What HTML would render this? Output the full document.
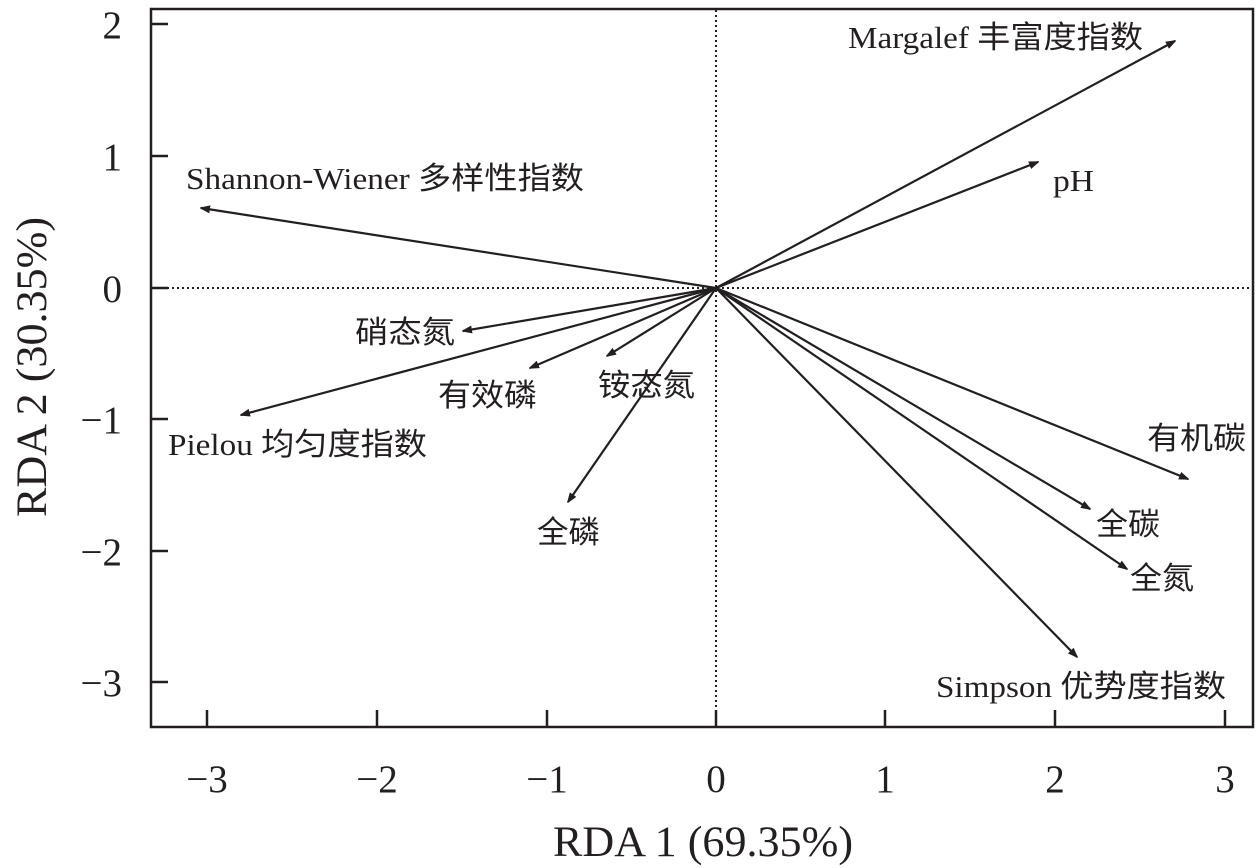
<!DOCTYPE html>
<html><head><meta charset="utf-8"><style>body{margin:0;background:#fff}svg{display:block}
.t{font-family:"Liberation Serif","Noto Serif CJK SC",serif;fill:#231f20}
.l{font-family:"Liberation Serif","Noto Sans CJK SC",sans-serif;fill:#231f20;font-size:31px}
</style></head><body>
<svg width="1259" height="868" viewBox="0 0 1259 868">
<defs><marker id="a" markerWidth="10" markerHeight="8" refX="9" refY="4" orient="auto" markerUnits="userSpaceOnUse"><path d="M0,0 L11,4 L0,8 z" fill="#231f20"/></marker></defs>
<rect x="151" y="9" width="1102" height="718" fill="none" stroke="#231f20" stroke-width="2.5"/>
<g stroke="#231f20" stroke-width="2.5">
<line x1="207" y1="727" x2="207" y2="710"/><line x1="377" y1="727" x2="377" y2="710"/><line x1="547" y1="727" x2="547" y2="710"/><line x1="716" y1="727" x2="716" y2="710"/><line x1="885" y1="727" x2="885" y2="710"/><line x1="1055" y1="727" x2="1055" y2="710"/><line x1="1225" y1="727" x2="1225" y2="710"/>
<line x1="151" y1="24" x2="168" y2="24"/><line x1="151" y1="156" x2="168" y2="156"/><line x1="151" y1="288" x2="168" y2="288"/><line x1="151" y1="419" x2="168" y2="419"/><line x1="151" y1="551" x2="168" y2="551"/><line x1="151" y1="682" x2="168" y2="682"/>
</g>
<g stroke="#231f20" stroke-width="2" stroke-dasharray="2,3">
<line x1="716" y1="10" x2="716" y2="726"/><line x1="152" y1="288" x2="1252" y2="288"/>
</g>
<g class="t" font-size="39" text-anchor="end">
<text x="122" y="38">2</text><text x="122" y="170">1</text><text x="122" y="302">0</text><text x="122" y="433">−1</text><text x="122" y="565">−2</text><text x="122" y="696">−3</text>
</g>
<g class="t" font-size="39" text-anchor="middle">
<text x="207" y="792">−3</text><text x="377" y="792">−2</text><text x="547" y="792">−1</text><text x="716" y="792">0</text><text x="885" y="792">1</text><text x="1055" y="792">2</text><text x="1225" y="792">3</text>
<text x="703" y="856" font-size="43" textLength="300" lengthAdjust="spacingAndGlyphs">RDA 1 (69.35%)</text>
<text transform="translate(46,367) rotate(-90)" font-size="43" textLength="300" lengthAdjust="spacingAndGlyphs">RDA 2 (30.35%)</text>
</g>
<g stroke="#231f20" stroke-width="2.2" marker-end="url(#a)">
<line x1="716" y1="288" x2="1175" y2="41"/>
<line x1="716" y1="288" x2="1038" y2="162"/>
<line x1="716" y1="288" x2="201" y2="208"/>
<line x1="716" y1="288" x2="463" y2="331"/>
<line x1="716" y1="288" x2="530" y2="368"/>
<line x1="716" y1="288" x2="607" y2="356"/>
<line x1="716" y1="288" x2="241" y2="415"/>
<line x1="716" y1="288" x2="568" y2="502"/>
<line x1="716" y1="288" x2="1188" y2="479"/>
<line x1="716" y1="288" x2="1090" y2="509"/>
<line x1="716" y1="288" x2="1127" y2="569"/>
<line x1="716" y1="288" x2="1077" y2="657"/>
</g>
<g class="l" lengthAdjust="spacingAndGlyphs">
<text x="848" y="48" textLength="295" lengthAdjust="spacingAndGlyphs">Margalef 丰富度指数</text>
<text x="1053" y="191" textLength="41" lengthAdjust="spacingAndGlyphs">pH</text>
<text x="186" y="189" textLength="398" lengthAdjust="spacingAndGlyphs">Shannon-Wiener 多样性指数</text>
<text x="355" y="343" textLength="100" lengthAdjust="spacingAndGlyphs">硝态氮</text>
<text x="438" y="406" textLength="99" lengthAdjust="spacingAndGlyphs">有效磷</text>
<text x="598" y="396" textLength="97" lengthAdjust="spacingAndGlyphs">铵态氮</text>
<text x="168" y="455" textLength="259" lengthAdjust="spacingAndGlyphs">Pielou 均匀度指数</text>
<text x="537" y="543" textLength="63" lengthAdjust="spacingAndGlyphs">全磷</text>
<text x="1147" y="449" textLength="99" lengthAdjust="spacingAndGlyphs">有机碳</text>
<text x="1096" y="535" textLength="64" lengthAdjust="spacingAndGlyphs">全碳</text>
<text x="1130" y="589" textLength="64" lengthAdjust="spacingAndGlyphs">全氮</text>
<text x="936" y="697" textLength="290" lengthAdjust="spacingAndGlyphs">Simpson 优势度指数</text>
</g>
</svg>
</body></html>
